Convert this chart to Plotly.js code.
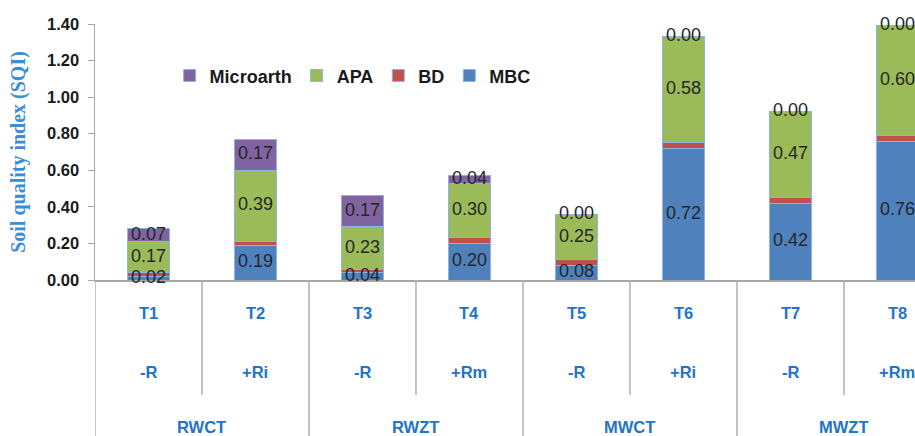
<!DOCTYPE html>
<html>
<head>
<meta charset="utf-8">
<script src="https://cdn.plot.ly/plotly-3.0.1.min.js"></script>
<style>html,body{margin:0;padding:0;background:#fff;}#chart{width:915px;height:436px;}</style>
</head>
<body>
<div id="chart"></div>
<script>
// ---- data ----
const treatments = ["T1", "T2", "T3", "T4", "T5", "T6", "T7", "T8"];
const residues = ["-R", "+Ri", "-R", "+Rm", "-R", "+Ri", "-R", "+Rm"];
const systems = ["RWCT", "RWZT", "MWCT", "MWZT"];
const MBC = [0.02, 0.19, 0.04, 0.20, 0.08, 0.72, 0.42, 0.76];
const BD = [0.02, 0.02, 0.02, 0.03, 0.03, 0.03, 0.03, 0.03];
const APA = [0.17, 0.39, 0.23, 0.30, 0.25, 0.58, 0.47, 0.60];
const Microarth = [0.07, 0.17, 0.17, 0.04, 0.00, 0.00, 0.00, 0.00];
const yTicks = [0, 0.2, 0.4, 0.6, 0.8, 1.0, 1.2, 1.4];

// ---- styles ----
const blue = '#1F74C9';
const outline = {color: '#8DB3E2', width: 1};
const labelFont = {family: 'Liberation Sans, Arial, sans-serif', size: 18, color: '#262626'};
const idx = treatments.map((_, i) => i);

function barTrace(name, vals, color) {
  return {
    type: 'bar', name: name, x: idx, y: vals,
    width: 0.4,
    marker: {color: color, line: outline},
    hoverinfo: 'skip'
  };
}
function labelTrace(vals, base) {
  return {
    type: 'scatter', mode: 'text', x: idx,
    y: idx.map(i => base[i] + vals[i] / 2),
    text: vals.map(v => v.toFixed(2)),
    textposition: 'middle center',
    textfont: labelFont,
    showlegend: false, hoverinfo: 'skip', cliponaxis: false
  };
}

const baseMBC = idx.map(() => 0);
const baseAPA = idx.map(i => MBC[i] + BD[i]);
const baseMicro = idx.map(i => MBC[i] + BD[i] + APA[i]);

const traces = [
  barTrace('MBC', MBC, '#4F81BD'),
  barTrace('BD', BD, '#C0504D'),
  barTrace('APA', APA, '#9BBB59'),
  barTrace('Microarth', Microarth, '#8064A2'),
  labelTrace(MBC, baseMBC),
  labelTrace(APA, baseAPA),
  labelTrace(Microarth, baseMicro)
];

// ---- category axis labels & separators ----
const annotations = [];
const shapes = [];
const lblFont = {family: 'Liberation Sans, Arial, sans-serif', size: 16.5, color: blue, weight: 'bold'};
idx.forEach(i => {
  annotations.push({x: i, y: -0.129, xref: 'x', yref: 'paper', text: '<b>' + treatments[i] + '</b>', showarrow: false, font: lblFont, yanchor: 'middle'});
  annotations.push({x: i, y: -0.359, xref: 'x', yref: 'paper', text: '<b>' + residues[i] + '</b>', showarrow: false, font: lblFont, yanchor: 'middle'});
});
systems.forEach((s, g) => {
  annotations.push({x: 2 * g + 0.5, y: -0.574, xref: 'x', yref: 'paper', text: '<b>' + s + '</b>', showarrow: false, font: lblFont, yanchor: 'middle'});
});
for (let k = 0; k <= treatments.length; k++) {
  const isGroup = k % 2 === 0;
  shapes.push({type: 'line', xref: 'x', yref: 'paper', x0: k - 0.5, x1: k - 0.5, y0: 0, y1: isGroup ? -0.62 : -0.449, line: {color: '#B0B0B0', width: 1.5}});
}

const layout = {
  width: 915, height: 436,
  margin: {l: 95, r: 0, t: 24, b: 156},
  paper_bgcolor: '#fff', plot_bgcolor: '#fff',
  barmode: 'stack',
  showlegend: true,
  legend: {orientation: 'h', x: 0.091, y: 0.87, xanchor: 'left', yanchor: 'top', traceorder: 'reversed',
    font: {family: 'Liberation Sans, Arial, sans-serif', size: 18, color: '#1a1a1a', weight: 'bold'}, bgcolor: 'rgba(0,0,0,0)'},
  xaxis: {type: 'linear', range: [-0.5, 7.164], showticklabels: false, ticks: '', showgrid: false, zeroline: false,
    showline: true, linecolor: '#A6A6A6', linewidth: 2, fixedrange: true, layer: 'below traces'},
  yaxis: {range: [0, 1.4], tickvals: yTicks, tickformat: '.2f', ticks: 'outside', ticklen: 6, tickcolor: '#A6A6A6',
    ticklabelstandoff: 5,
    showline: true, linecolor: '#A6A6A6', linewidth: 1.5, showgrid: false, zeroline: false,
    tickfont: {family: 'Liberation Sans, Arial, sans-serif', size: 16.5, color: '#1a1a1a', weight: 'bold'},
    title: {text: 'Soil quality index (SQI)', standoff: 16,
      font: {family: 'Liberation Serif, Times New Roman, serif', size: 20, color: '#3A8DD8', weight: 'bold'}}},
  annotations: annotations,
  shapes: shapes
};

Plotly.newPlot('chart', traces, layout, {displayModeBar: false, staticPlot: true});
</script>
</body>
</html>
